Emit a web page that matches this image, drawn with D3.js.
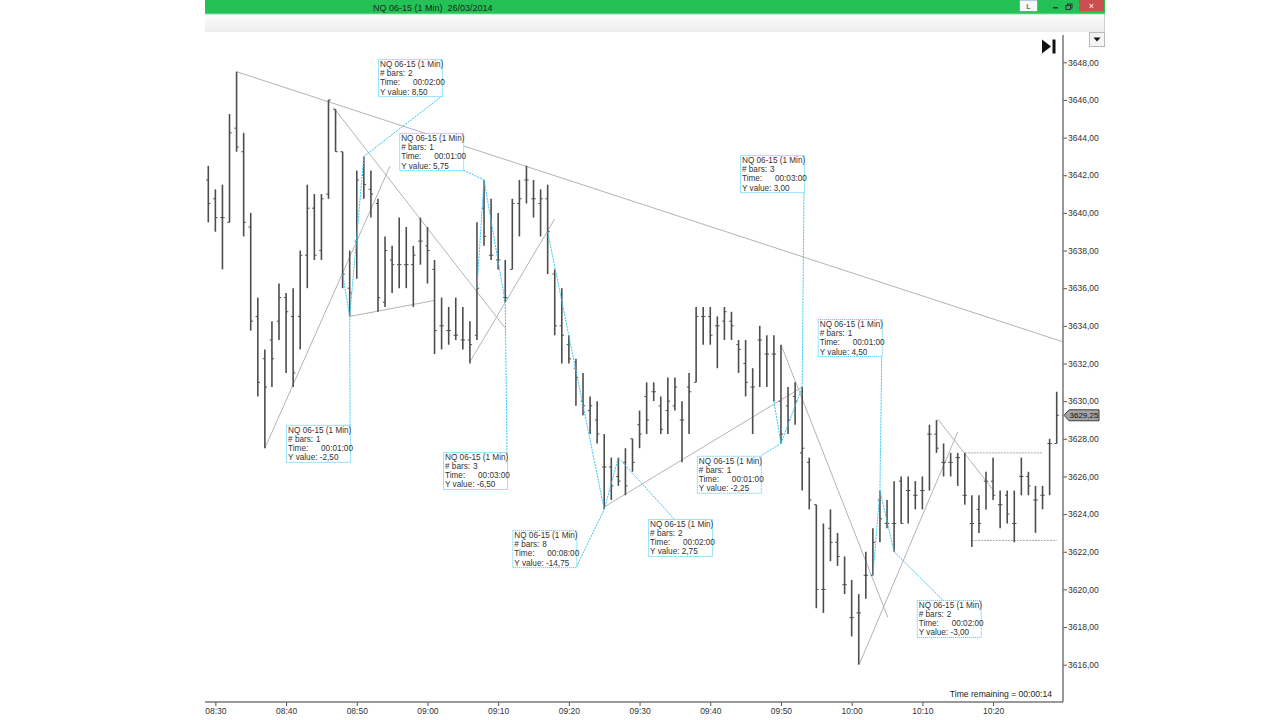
<!DOCTYPE html>
<html>
<head>
<meta charset="utf-8">
<script src="https://cdn.jsdelivr.net/npm/d3@7"></script>
<style>
  body { margin: 0; background: #fff; }
  svg { display: block; font-family: "Liberation Sans", Arial, sans-serif; }
</style>
</head>
<body>
<div id="chart"></div>
<script>
// ---- bar data (1 min bars, NQ 06-15) ----
var barTimes = [
  "08:29","08:30","08:31","08:32","08:33","08:34","08:35","08:36","08:37","08:38",
  "08:39","08:40","08:41","08:42","08:43","08:44","08:45","08:46","08:47","08:48",
  "08:49","08:50","08:51","08:52","08:53","08:54","08:55","08:56","08:57","08:58",
  "08:59","09:00","09:01","09:02","09:03","09:04","09:05","09:06","09:07","09:08",
  "09:09","09:10","09:11","09:12","09:13","09:14","09:15","09:16","09:17","09:18",
  "09:19","09:20","09:21","09:22","09:23","09:24","09:25","09:26","09:27","09:28",
  "09:29","09:30","09:31","09:32","09:33","09:34","09:35","09:36","09:37","09:38",
  "09:39","09:40","09:41","09:42","09:43","09:44","09:45","09:46","09:47","09:48",
  "09:49","09:50","09:51","09:52","09:53","09:54","09:55","09:56","09:57","09:58",
  "09:59","10:00","10:01","10:02","10:03","10:04","10:05","10:06","10:07","10:08",
  "10:09","10:10","10:11","10:12","10:13","10:14","10:15","10:16","10:17","10:18",
  "10:19","10:20","10:21","10:22","10:23","10:24","10:25","10:26","10:27","10:28",
  "10:29"
];

var highs = [
  3642.5, 3641.25, 3641.5, 3645.25, 3647.5, 3644.25, 3640.0, 3635.5, 3632.75, 3634.25,
  3636.25, 3635.75, 3636.0, 3638.0, 3641.5, 3641.0, 3641.0, 3646.0, 3645.5, 3643.25,
  3638.0, 3642.25, 3643.0, 3642.25, 3640.75, 3638.75, 3638.25, 3639.75, 3639.25, 3638.25,
  3639.75, 3639.25, 3637.5, 3635.5, 3635.0, 3635.5, 3635.0, 3634.25, 3639.5, 3641.75,
  3640.75, 3640.0, 3637.5, 3640.75, 3641.75, 3642.5, 3641.75, 3641.25, 3641.5, 3637.0,
  3636.0, 3633.5, 3632.25, 3631.5, 3630.25, 3630.0, 3628.25, 3627.0, 3627.0, 3627.5,
  3628.0, 3629.5, 3631.0, 3631.0, 3630.25, 3631.25, 3631.25, 3630.0, 3631.5, 3635.0,
  3635.0, 3635.0, 3634.5, 3635.0, 3634.75, 3633.25, 3633.25, 3631.75, 3634.0, 3633.5,
  3633.5, 3633.0, 3630.75, 3631.0, 3630.75, 3627.0, 3624.5, 3623.5, 3624.25, 3623.0,
  3621.75, 3620.5, 3619.75, 3622.0, 3623.25, 3625.25, 3624.75, 3625.75, 3626.0, 3626.0,
  3625.75, 3626.0, 3628.75, 3629.0, 3627.75, 3627.25, 3627.25, 3627.25, 3625.0, 3625.0,
  3626.25, 3627.0, 3625.25, 3625.25, 3625.25, 3627.0, 3626.25, 3625.5, 3625.5, 3628.0,
  3630.5
];

var lows = [
  3639.5, 3639.0, 3637.0, 3639.5, 3643.25, 3638.75, 3633.75, 3630.25, 3627.5, 3630.75,
  3633.25, 3631.5, 3630.75, 3632.75, 3636.0, 3637.5, 3637.5, 3640.75, 3643.25, 3636.0,
  3634.5, 3636.5, 3640.75, 3639.75, 3634.75, 3635.0, 3635.75, 3636.0, 3636.0, 3635.0,
  3637.25, 3636.25, 3632.5, 3632.75, 3633.0, 3633.25, 3632.75, 3632.0, 3633.25, 3638.25,
  3637.5, 3637.0, 3635.25, 3637.0, 3638.75, 3640.5, 3639.75, 3638.75, 3636.75, 3633.5,
  3632.0, 3632.0, 3629.75, 3629.25, 3628.25, 3627.75, 3624.25, 3624.75, 3625.5, 3625.0,
  3626.25, 3627.5, 3628.25, 3630.0, 3628.25, 3628.25, 3629.5, 3626.75, 3628.25, 3631.0,
  3633.0, 3633.0, 3631.75, 3633.25, 3633.25, 3631.5, 3630.25, 3628.25, 3630.75, 3630.75,
  3630.0, 3627.75, 3628.25, 3628.75, 3625.25, 3624.25, 3619.0, 3618.75, 3621.5, 3621.25,
  3619.75, 3617.5, 3616.0, 3619.5, 3620.75, 3622.5, 3623.25, 3622.0, 3623.5, 3623.5,
  3624.25, 3624.25, 3625.25, 3627.25, 3626.0, 3626.0, 3625.5, 3624.5, 3622.25, 3623.0,
  3624.25, 3624.75, 3623.25, 3623.5, 3622.5, 3625.0, 3625.0, 3623.0, 3624.25, 3625.0,
  3627.75
];

var opens = [
  3641.75, 3640.75, 3639.75, 3639.5, 3644.5, 3643.25, 3639.25, 3634.5, 3632.25, 3633.25,
  3634.25, 3635.5, 3634.5, 3634.5, 3637.75, 3640.25, 3638.0, 3641.0, 3645.5, 3643.25,
  3636.0, 3638.5, 3642.0, 3641.25, 3640.5, 3635.25, 3637.5, 3637.25, 3637.25, 3637.25,
  3638.5, 3638.25, 3637.0, 3634.0, 3633.75, 3633.5, 3633.25, 3633.25, 3633.5, 3640.25,
  3637.75, 3637.5, 3635.5, 3637.0, 3640.5, 3641.75, 3640.75, 3640.5, 3640.75, 3636.75,
  3634.0, 3633.0, 3631.75, 3630.0, 3629.5, 3629.0, 3626.5, 3626.5, 3626.0, 3626.75,
  3628.0, 3628.75, 3630.25, 3630.5, 3629.75, 3629.5, 3629.75, 3629.0, 3630.75, 3631.0,
  3634.5, 3634.5, 3634.0, 3634.25, 3634.25, 3633.0, 3632.0, 3630.75, 3633.25, 3632.5,
  3632.5, 3630.0, 3629.75, 3630.25, 3627.25, 3626.75, 3624.5, 3620.0, 3623.25, 3622.5,
  3620.25, 3618.5, 3618.75, 3620.75, 3620.75, 3624.75, 3623.5, 3623.5, 3625.75, 3625.25,
  3625.0, 3625.25, 3628.25, 3628.25, 3626.75, 3626.75, 3627.0, 3625.0, 3623.5, 3624.25,
  3625.75, 3625.75, 3624.5, 3625.0, 3623.5, 3626.0, 3626.0, 3624.75, 3625.0, 3627.75,
  3627.75
];

var closes = [
  3640.5, 3639.75, 3639.75, 3644.25, 3643.5, 3639.5, 3634.25, 3631.0, 3630.75, 3632.25,
  3635.5, 3634.75, 3631.5, 3637.75, 3640.25, 3637.75, 3640.75, 3646.0, 3643.25, 3636.75,
  3635.75, 3641.75, 3641.5, 3641.0, 3635.5, 3638.0, 3637.25, 3637.25, 3637.25, 3637.75,
  3638.5, 3638.0, 3633.75, 3634.0, 3633.75, 3633.5, 3633.25, 3633.0, 3636.0, 3638.75,
  3637.75, 3637.5, 3635.5, 3640.5, 3640.75, 3641.75, 3640.75, 3640.75, 3639.0, 3634.0,
  3633.5, 3632.25, 3631.25, 3629.75, 3629.75, 3628.25, 3626.5, 3625.5, 3625.75, 3625.5,
  3626.75, 3628.25, 3629.0, 3630.5, 3628.5, 3630.0, 3630.75, 3629.0, 3630.5, 3634.5,
  3634.5, 3633.5, 3634.0, 3634.75, 3634.0, 3632.75, 3631.0, 3630.75, 3633.25, 3632.5,
  3632.5, 3628.25, 3629.0, 3630.0, 3627.5, 3624.75, 3620.0, 3620.0, 3622.5, 3621.75,
  3620.25, 3618.5, 3618.75, 3620.75, 3622.5, 3623.75, 3623.5, 3623.5, 3623.5, 3625.25,
  3625.0, 3625.25, 3628.25, 3627.5, 3626.75, 3626.75, 3627.0, 3625.0, 3623.5, 3623.5,
  3625.75, 3625.0, 3624.5, 3624.0, 3623.5, 3626.0, 3625.5, 3624.75, 3625.0, 3627.75,
  3629.25
];

// axis ticks
var xTickLabels = ["08:30","08:40","08:50","09:00","09:10","09:20","09:30","09:40","09:50","10:00","10:10","10:20"];
var yTickValues = [3616, 3618, 3620, 3622, 3624, 3626, 3628, 3630, 3632, 3634, 3636, 3638, 3640, 3642, 3644, 3646, 3648];

// drawn trend lines: [time1, price1, time2, price2]
var trendLines = [
  ["08:33:00", 3647.5, "10:29:54", 3633.15],
  ["08:46:42", 3645.6, "09:11:06", 3633.83],
  ["08:37:00", 3627.5, "08:54:42", 3642.48],
  ["08:49:00", 3634.5, "09:01:00", 3635.35],
  ["09:06:00", 3632.08, "09:18:00", 3639.68],
  ["09:25:00", 3624.38, "09:53:06", 3630.77],
  ["09:50:00", 3633.0, "10:05:06", 3618.53],
  ["10:01:06", 3616.04, "10:15:00", 3628.36],
  ["10:12:12", 3629.04, "10:20:12", 3625.19]
];

// dotted horizontal levels: [from, to, price]
var levelLines = [
  ["10:16", "10:27", 3627.25],
  ["10:17", "10:29", 3622.6]
];

// ruler measurements
var rulerStart = [["08:49",3634.5],["08:48",3636.75],["09:07",3636.0],["09:08",3641.75],["09:17",3639.0],
                  ["09:25",3624.25],["09:50",3627.75],["09:49",3630.0],["10:03",3620.75],["10:04",3625.25]];
var rulerEnd = [["08:51",3643.0],["08:49",3634.5],["09:08",3641.75],["09:11",3635.25],["09:25",3624.25],
                ["09:27",3627.0],["09:53",3630.75],["09:50",3627.75],["10:04",3625.25],["10:06",3622.0]];
var rulerBoxAt = [["08:53",3648.17],["08:40",3628.74],["08:56",3644.24],["09:02:12",3627.3],["09:12",3623.15],
                  ["09:31:12",3623.74],["09:44:12",3643.07],["09:38:06",3627.1],["09:55:12",3634.36],["10:09:12",3619.44]];
var rulerBars = ["2","1","1","3","8","2","3","1","1","2"];
var rulerTimes = ["00:02:00","00:01:00","00:01:00","00:03:00","00:08:00","00:02:00","00:03:00","00:01:00","00:01:00","00:02:00"];
var rulerValues = ["8,50","-2,50","5,75","-6,50","-14,75","2,75","3,00","-2,25","4,50","-3,00"];
var rulerAttach = ["br","tr","br","tr","br","top","br","tr","br","top"];

var instrument = "NQ 06-15 (1 Min)";
var sessionDate = "26/03/2014";
var lastPrice = closes[closes.length - 1];

// ---- layout ----
var svgWidth = 1280;
var svgHeight = 720;
var plot = { left: 205, right: 1063, top: 35, bottom: 702 };
var boxW = 64, boxH = 37;

function toDate(s) {
  var p = s.split(":");
  return new Date(2014, 2, 26, +p[0], +p[1], p.length > 2 ? +p[2] : 0);
}
function fmtPrice(v) {
  return d3.format(".2f")(v).replace(".", ",");
}

var svg = d3.select("#chart")
  .append("svg")
  .attr("width", svgWidth)
  .attr("height", svgHeight);

// scales
var x = d3.scaleTime()
  .domain([toDate(barTimes[0]), toDate(barTimes[barTimes.length - 1])])
  .range([208.3, 1056.7]);

var y = d3.scaleLinear()
  .domain([3616, 3648])
  .range([664.7, 62.3]);

// ---- window chrome ----
svg.append("rect").attr("x", 205).attr("y", 0).attr("width", 900).attr("height", 14).attr("fill", "#23c156");
svg.append("line").attr("x1", 205).attr("x2", 1105).attr("y1", 14).attr("y2", 14).attr("stroke", "#8fdca8");
svg.append("text")
  .attr("x", 373).attr("y", 10.5)
  .attr("font-size", 9).attr("fill", "#1c2a20")
  .text(instrument + "\u00a0\u00a0" + sessionDate);

// title bar buttons
svg.append("rect").attr("x", 1019.5).attr("y", 0).attr("width", 18).attr("height", 11.5)
  .attr("fill", "#f7f7f7").attr("stroke", "#6f9fd6");
svg.append("text").attr("x", 1028.5).attr("y", 9).attr("text-anchor", "middle")
  .attr("font-size", 8).attr("fill", "#333").text("L");
svg.append("rect").attr("x", 1053).attr("y", 7).attr("width", 5).attr("height", 1.5).attr("fill", "#333");
svg.append("rect").attr("x", 1067.5).attr("y", 4).attr("width", 4.5).attr("height", 4).attr("fill", "none").attr("stroke", "#333");
svg.append("rect").attr("x", 1066).attr("y", 5.5).attr("width", 4.5).attr("height", 4).attr("fill", "#23c156").attr("stroke", "#333");
svg.append("rect").attr("x", 1079).attr("y", 0).attr("width", 25).attr("height", 11).attr("fill", "#c9504f");
svg.append("text").attr("x", 1091.5).attr("y", 9).attr("text-anchor", "middle")
  .attr("font-size", 9).attr("fill", "#fff").text("×");

// toolbar strip
var grad = svg.append("defs").append("linearGradient")
  .attr("id", "tb").attr("x1", 0).attr("x2", 0).attr("y1", 0).attr("y2", 1);
grad.append("stop").attr("offset", "0%").attr("stop-color", "#fbfbfb");
grad.append("stop").attr("offset", "100%").attr("stop-color", "#ededed");
svg.append("rect").attr("x", 205).attr("y", 15).attr("width", 900).attr("height", 17).attr("fill", "url(#tb)");
svg.append("line").attr("x1", 1104.5).attr("x2", 1104.5).attr("y1", 15).attr("y2", 32).attr("stroke", "#cfcfcf");

// clip for the price panel
svg.select("defs").append("clipPath").attr("id", "plotClip")
  .append("rect")
  .attr("x", plot.left).attr("y", plot.top)
  .attr("width", plot.right - plot.left).attr("height", plot.bottom - plot.top);

var chartGroup = svg.append("g").attr("clip-path", "url(#plotClip)");

// ---- trend lines ----
chartGroup.selectAll("line.trend")
  .data(trendLines)
  .enter()
  .append("line")
  .attr("class", "trend")
  .attr("x1", d => x(toDate(d[0])))
  .attr("y1", d => y(d[1]))
  .attr("x2", d => x(toDate(d[2])))
  .attr("y2", d => y(d[3]))
  .attr("stroke", "#b4b4b4")
  .attr("stroke-width", 1);

chartGroup.selectAll("line.level")
  .data(levelLines)
  .enter()
  .append("line")
  .attr("class", "level")
  .attr("x1", d => x(toDate(d[0])))
  .attr("x2", d => x(toDate(d[1])))
  .attr("y1", d => y(d[2]))
  .attr("y2", d => y(d[2]))
  .attr("stroke", "#a8a8a8")
  .attr("stroke-dasharray", "2,1");

// ---- bars ----
var bars = barTimes.map(function(t, i) {
  return { t: toDate(t), o: opens[i], h: highs[i], l: lows[i], c: closes[i] };
});

var barGroup = chartGroup.append("g");

barGroup.selectAll("line.hl")
  .data(bars)
  .enter()
  .append("line")
  .attr("class", "hl")
  .attr("x1", d => x(d.t))
  .attr("x2", d => x(d.t))
  .attr("y1", d => y(d.h))
  .attr("y2", d => y(d.l))
  .attr("stroke", "#4d4d4d")
  .attr("stroke-width", 1.6);

barGroup.selectAll("line.op")
  .data(bars)
  .enter()
  .append("line")
  .attr("class", "op")
  .attr("x1", d => x(d.t) - 2.2)
  .attr("x2", d => x(d.t))
  .attr("y1", d => y(d.o))
  .attr("y2", d => y(d.o))
  .attr("stroke", "#4d4d4d")
  .attr("stroke-width", 1);

barGroup.selectAll("line.cl")
  .data(bars)
  .enter()
  .append("line")
  .attr("class", "cl")
  .attr("x1", d => x(d.t))
  .attr("x2", d => x(d.t) + 2.2)
  .attr("y1", d => y(d.c))
  .attr("y2", d => y(d.c))
  .attr("stroke", "#4d4d4d")
  .attr("stroke-width", 1);

// ---- rulers ----
var rulerColor = "#33c8f5";
var rulerGroup = chartGroup.append("g");

rulerValues.forEach(function(val, i) {
  var bx = x(toDate(rulerBoxAt[i][0]));
  var by = y(rulerBoxAt[i][1]);
  var ax, ay;
  if (rulerAttach[i] === "br") { ax = bx + boxW; ay = by + boxH; }
  else if (rulerAttach[i] === "tr") { ax = bx + boxW; ay = by; }
  else { ax = bx + 26; ay = by; }

  var pts = [
    [x(toDate(rulerStart[i][0])), y(rulerStart[i][1])],
    [x(toDate(rulerEnd[i][0])), y(rulerEnd[i][1])],
    [ax, ay]
  ];

  rulerGroup.append("path")
    .attr("d", d3.line()(pts))
    .attr("fill", "none")
    .attr("stroke", rulerColor)
    .attr("stroke-width", 1)
    .attr("stroke-dasharray", "2,1");

  var box = rulerGroup.append("g").attr("transform", `translate(${bx}, ${by})`);
  box.append("rect")
    .attr("x", 0.5).attr("y", 0.5)
    .attr("width", boxW).attr("height", boxH)
    .attr("fill", "#fff")
    .attr("stroke", rulerColor)
    .attr("stroke-dasharray", "1,1");

  var txt = box.append("g").attr("font-size", 8.2).attr("fill", "#333");
  txt.append("text").attr("x", 2).attr("y", 8.2).text(instrument);
  txt.append("text").attr("x", 2).attr("y", 17.3).text("# bars:");
  txt.append("text").attr("x", 30).attr("y", 17.3).text(rulerBars[i]);
  txt.append("text").attr("x", 2).attr("y", 26.4).text("Time:");
  txt.append("text").attr("x", 35).attr("y", 26.4).text(rulerTimes[i]);
  txt.append("text").attr("x", 2).attr("y", 35.5).text("Y value: " + val);
});

// ---- axes ----
var bottomAxis = d3.axisBottom(x)
  .tickValues(xTickLabels.map(toDate))
  .tickFormat(d3.timeFormat("%H:%M"))
  .tickSize(4)
  .tickPadding(2);

var xAxis = svg.append("g")
  .attr("transform", `translate(0, ${plot.bottom})`)
  .call(bottomAxis);
xAxis.select(".domain").remove();
xAxis.selectAll("line").attr("stroke", "#555");
xAxis.selectAll("text").attr("font-size", 8.5).attr("fill", "#333").attr("font-family", "Liberation Sans, Arial, sans-serif");

svg.append("line")
  .attr("x1", plot.left).attr("x2", plot.right)
  .attr("y1", plot.bottom).attr("y2", plot.bottom)
  .attr("stroke", "#777").attr("stroke-width", 1.5);

var rightAxis = d3.axisRight(y)
  .tickValues(yTickValues)
  .tickFormat(fmtPrice)
  .tickSize(4)
  .tickPadding(1);

var yAxis = svg.append("g")
  .attr("transform", `translate(${plot.right}, 0)`)
  .call(rightAxis);
yAxis.select(".domain").remove();
yAxis.selectAll("line").attr("stroke", "#555");
yAxis.selectAll("text").attr("font-size", 8.5).attr("fill", "#333").attr("font-family", "Liberation Sans, Arial, sans-serif");

svg.append("line")
  .attr("x1", plot.right).attr("x2", plot.right)
  .attr("y1", plot.top).attr("y2", plot.bottom)
  .attr("stroke", "#777").attr("stroke-width", 1.5);

// last price marker
var yl = y(lastPrice);
svg.append("path")
  .attr("d", `M${plot.right + 1},${yl} L${plot.right + 6},${yl - 5.5} L${plot.right + 36},${yl - 5.5} L${plot.right + 36},${yl + 5.5} L${plot.right + 6},${yl + 5.5} Z`)
  .attr("fill", "#a3a3a3")
  .attr("stroke", "#3d3d3d");
svg.append("text")
  .attr("x", plot.right + 6.5).attr("y", yl + 3)
  .attr("font-size", 8).attr("fill", "#111")
  .text(fmtPrice(lastPrice));

// time remaining
svg.append("text")
  .attr("x", 1052).attr("y", 696.5)
  .attr("text-anchor", "end")
  .attr("font-size", 8.6).attr("fill", "#222")
  .text("Time remaining = 00:00:14");

// go-to-end icon and dropdown
svg.append("path").attr("d", "M1042,39.5 L1051,46.5 L1042,53.5 Z").attr("fill", "#111");
svg.append("rect").attr("x", 1052.5).attr("y", 39.5).attr("width", 3).attr("height", 14).attr("fill", "#111");
svg.append("rect").attr("x", 1089.5).attr("y", 32.5).attr("width", 15).attr("height", 14)
  .attr("fill", "#f4f4f4").attr("stroke", "#b9b9b9");
svg.append("path").attr("d", "M1093.5,37.5 L1100.5,37.5 L1097,41.5 Z").attr("fill", "#111");
</script>
</body>
</html>
